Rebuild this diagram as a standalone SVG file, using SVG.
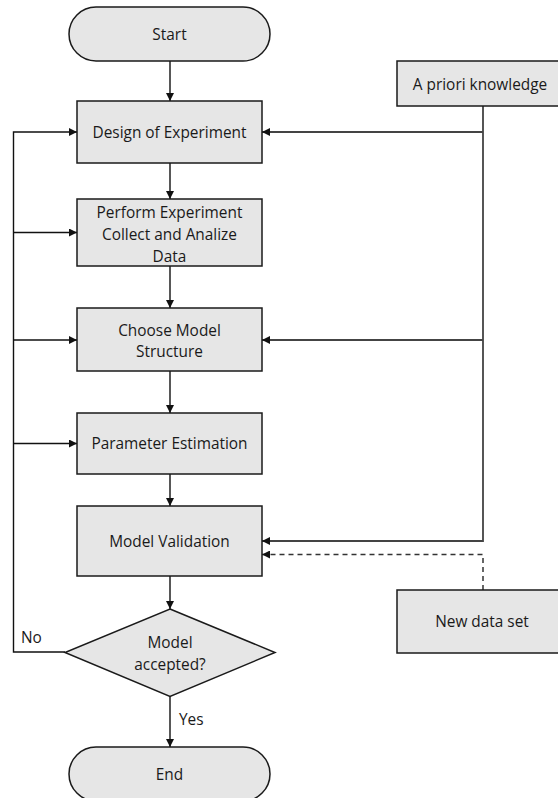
<svg xmlns="http://www.w3.org/2000/svg" width="558" height="798" viewBox="0 0 558 798">
  <style>
    .node { fill: #e6e6e6; stroke: #1a1a1a; stroke-width: 1.5; }
    .lbl { font-family: "Open Sans", "Liberation Sans", sans-serif; font-size: 15.4px; fill: #1a1a1a; text-anchor: middle; dominant-baseline: central; }
    .edge { fill: none; stroke: #111; stroke-width: 1.4; }
    .edge2 { fill: none; stroke: #444; stroke-width: 1.8; }
    .dash { fill: none; stroke: #333; stroke-width: 1.5; stroke-dasharray: 5 4; }
    .ann { font-family: "Open Sans", "Liberation Sans", sans-serif; font-size: 15.4px; fill: #1a1a1a; }
  </style>
  <defs>
    <marker id="arr" viewBox="0 0 10 10" refX="10" refY="5" markerWidth="9" markerHeight="8" markerUnits="userSpaceOnUse" orient="auto">
      <path d="M0,0 L10,5 L0,10 z" fill="#111"/>
    </marker>
  </defs>
  <rect width="558" height="798" fill="#ffffff"/>

  <g id="connectors">
    <line class="edge" x1="170" y1="61" x2="170" y2="101" marker-end="url(#arr)"/>
    <line class="edge" x1="170" y1="163" x2="170" y2="199" marker-end="url(#arr)"/>
    <line class="edge" x1="170" y1="266" x2="170" y2="308" marker-end="url(#arr)"/>
    <line class="edge" x1="170" y1="371" x2="170" y2="413" marker-end="url(#arr)"/>
    <line class="edge" x1="170" y1="474" x2="170" y2="506" marker-end="url(#arr)"/>
    <line class="edge" x1="170" y1="576" x2="170" y2="609" marker-end="url(#arr)"/>
    <line class="edge" x1="170" y1="696.5" x2="170" y2="747" marker-end="url(#arr)"/>
    <text class="ann" x="179" y="725">Yes</text>

    <polyline class="edge" points="65,652 13.5,652 13.5,132 77,132" marker-end="url(#arr)"/>
    <line class="edge" x1="13.5" y1="232.5" x2="77" y2="232.5" marker-end="url(#arr)"/>
    <line class="edge" x1="13.5" y1="340" x2="77" y2="340" marker-end="url(#arr)"/>
    <line class="edge" x1="13.5" y1="443.5" x2="77" y2="443.5" marker-end="url(#arr)"/>
    <text class="ann" x="21" y="643">No</text>

    <polyline class="edge2" points="483,106 483,541 262,541" marker-end="url(#arr)"/>
    <line class="edge2" x1="483" y1="132" x2="262" y2="132" marker-end="url(#arr)"/>
    <line class="edge2" x1="483" y1="340" x2="262" y2="340" marker-end="url(#arr)"/>

    <polyline class="dash" points="483,590 483,554.5 262,554.5" marker-end="url(#arr)"/>
  </g>

  <g id="start">
    <rect class="node" x="69" y="7" width="201" height="54" rx="27" ry="27"/>
    <text class="lbl" x="169.5" y="34">Start</text>
  </g>
  <g id="design">
    <rect class="node" x="77" y="101" width="185" height="62"/>
    <text class="lbl" x="169.5" y="132">Design of Experiment</text>
  </g>
  <g id="perform">
    <rect class="node" x="77" y="199" width="185" height="67"/>
    <text class="lbl" x="169.5" y="212">Perform Experiment</text>
    <text class="lbl" x="169.5" y="234">Collect and Analize</text>
    <text class="lbl" x="169.5" y="256">Data</text>
  </g>
  <g id="choose">
    <rect class="node" x="77" y="308" width="185" height="63"/>
    <text class="lbl" x="169.5" y="330">Choose Model</text>
    <text class="lbl" x="169.5" y="351">Structure</text>
  </g>
  <g id="param">
    <rect class="node" x="77" y="413" width="185" height="61"/>
    <text class="lbl" x="169.5" y="443.5">Parameter Estimation</text>
  </g>
  <g id="validation">
    <rect class="node" x="77" y="506" width="185" height="70"/>
    <text class="lbl" x="169.5" y="541">Model Validation</text>
  </g>
  <g id="decision">
    <polygon class="node" points="170,609 275,652.5 170,696.5 65,652.5"/>
    <text class="lbl" x="170" y="642">Model</text>
    <text class="lbl" x="170" y="664">accepted?</text>
  </g>
  <g id="end">
    <rect class="node" x="69" y="747" width="201" height="54" rx="27" ry="27"/>
    <text class="lbl" x="169.5" y="774">End</text>
  </g>
  <g id="apriori">
    <rect class="node" x="397" y="61" width="172" height="45"/>
    <text class="lbl" x="480" y="84">A priori knowledge</text>
  </g>
  <g id="newdata">
    <rect class="node" x="397" y="590" width="172" height="63"/>
    <text class="lbl" x="482" y="621.5">New data set</text>
  </g>
</svg>
